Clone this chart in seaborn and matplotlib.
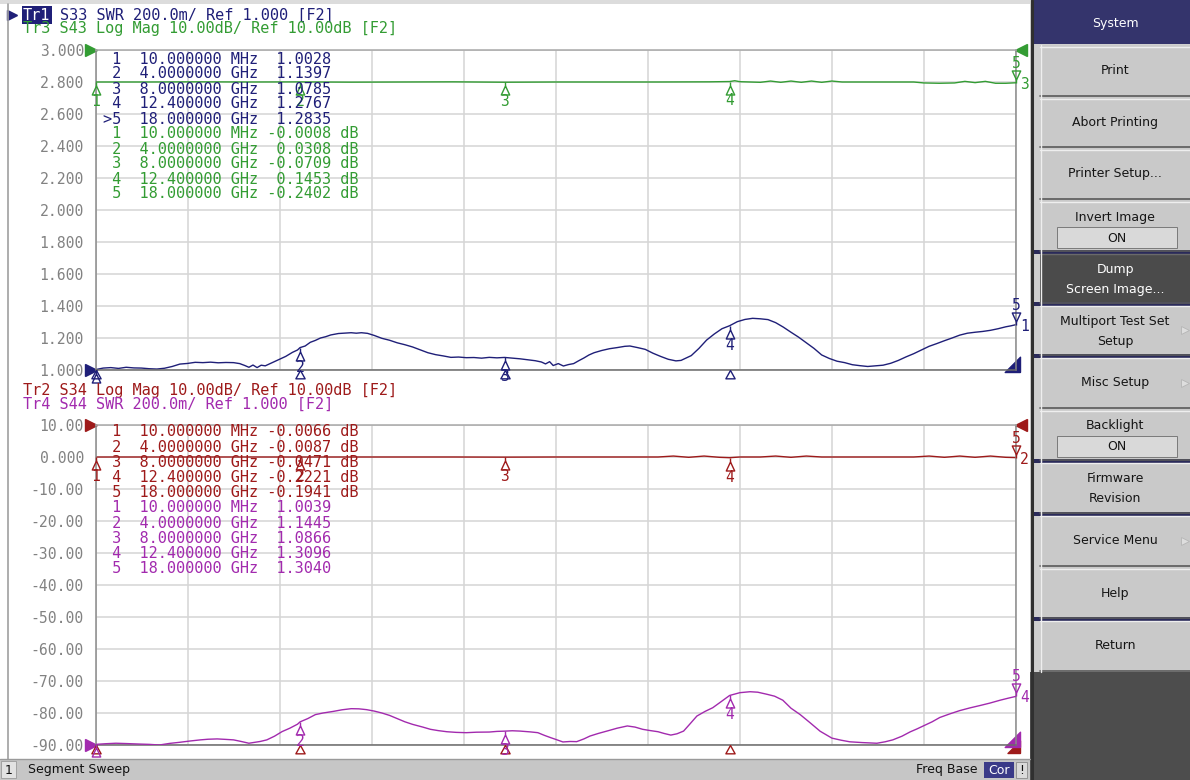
import matplotlib
matplotlib.use("Agg")
import numpy as np
import pandas as pd
import matplotlib.pyplot as plt
import seaborn as sns
from matplotlib.patches import Rectangle

# ---------------- data ----------------
F_START, F_STOP = 0.01, 18.0   # GHz

s33_freq = [0.01, 0.15, 0.30, 0.45, 0.60, 0.75, 0.90, 1.05, 1.20, 1.35, 1.50, 1.65, 1.80, 1.95,
            2.10, 2.25, 2.40, 2.55, 2.70, 2.82, 2.92, 3.00, 3.08, 3.16, 3.24, 3.32, 3.45, 3.60,
            3.72, 3.85, 3.95, 4.00, 4.10, 4.20, 4.30, 4.40, 4.50, 4.60, 4.75, 4.90, 5.00, 5.10,
            5.20, 5.32, 5.45, 5.60, 5.75, 5.90, 6.05, 6.20, 6.35, 6.50, 6.65, 6.80, 6.95, 7.10,
            7.25, 7.40, 7.55, 7.70, 7.85, 8.00, 8.15, 8.30, 8.45, 8.60, 8.72, 8.80, 8.88, 8.95,
            9.05, 9.15, 9.25, 9.35, 9.45, 9.55, 9.65, 9.75, 9.90, 10.05, 10.20, 10.35, 10.45,
            10.60, 10.75, 10.90, 11.05, 11.20, 11.35, 11.45, 11.55, 11.65, 11.80, 11.95, 12.10,
            12.25, 12.40, 12.55, 12.70, 12.85, 13.00, 13.15, 13.30, 13.45, 13.60, 13.75, 13.90,
            14.05, 14.20, 14.35, 14.50, 14.65, 14.80, 14.95, 15.10, 15.25, 15.40, 15.55, 15.70,
            15.85, 16.00, 16.15, 16.30, 16.45, 16.60, 16.75, 16.90, 17.05, 17.20, 17.35, 17.50,
            17.65, 17.80, 17.90, 18.00]
s33_swr = [1.003, 1.012, 1.015, 1.010, 1.017, 1.013, 1.012, 1.008, 1.006, 1.011, 1.022, 1.037, 1.041, 1.048,
           1.046, 1.049, 1.045, 1.047, 1.046, 1.040, 1.028, 1.017, 1.031, 1.015, 1.030, 1.026, 1.045, 1.067,
           1.085, 1.110, 1.125, 1.140, 1.150, 1.173, 1.185, 1.200, 1.208, 1.219, 1.228, 1.231, 1.233, 1.230,
           1.233, 1.229, 1.216, 1.198, 1.186, 1.170, 1.158, 1.144, 1.126, 1.108, 1.096, 1.088, 1.079, 1.081,
           1.077, 1.078, 1.074, 1.079, 1.076, 1.0785, 1.074, 1.070, 1.064, 1.058, 1.050, 1.038, 1.052, 1.028,
           1.040, 1.025, 1.034, 1.040, 1.058, 1.075, 1.094, 1.108, 1.122, 1.133, 1.140, 1.148, 1.150,
           1.140, 1.129, 1.105, 1.085, 1.067, 1.057, 1.060, 1.075, 1.090, 1.135, 1.187, 1.225,
           1.258, 1.2767, 1.302, 1.316, 1.323, 1.320, 1.315, 1.296, 1.268, 1.236, 1.205, 1.170,
           1.135, 1.094, 1.072, 1.055, 1.046, 1.033, 1.027, 1.022, 1.026, 1.030, 1.042, 1.060,
           1.082, 1.102, 1.125, 1.148, 1.165, 1.183, 1.200, 1.218, 1.230, 1.236, 1.241, 1.248,
           1.258, 1.270, 1.276, 1.2835]

s44_freq = [0.01, 0.20, 0.40, 0.60, 0.85, 1.05, 1.25, 1.45, 1.65, 1.85, 2.05, 2.20, 2.38, 2.55, 2.70,
            2.85, 3.00, 3.10, 3.22, 3.35, 3.50, 3.65, 3.80, 3.95, 4.00, 4.15, 4.30, 4.45, 4.65, 4.82,
            5.00, 5.15, 5.30, 5.45, 5.60, 5.75, 5.90, 6.05, 6.20, 6.40, 6.55, 6.70, 6.87, 7.05, 7.25,
            7.45, 7.70, 7.85, 8.00, 8.15, 8.30, 8.50, 8.65, 8.78, 8.90, 9.00, 9.14, 9.28, 9.41, 9.55,
            9.67, 9.83, 10.00, 10.20, 10.40, 10.55, 10.70, 10.85, 11.00, 11.12, 11.25, 11.37, 11.50,
            11.62, 11.76, 11.92, 12.07, 12.23, 12.40, 12.60, 12.80, 12.95, 13.13, 13.28, 13.44, 13.60,
            13.78, 13.97, 14.17, 14.40, 14.58, 14.75, 15.00, 15.28, 15.44, 15.59, 15.77, 15.93, 16.06,
            16.18, 16.36, 16.51, 16.71, 16.90, 17.10, 17.30, 17.49, 17.69, 17.84, 18.00]
s44_swr = [1.004, 1.008, 1.011, 1.009, 1.006, 1.004, 1.000, 1.010, 1.017, 1.025, 1.032, 1.036, 1.038, 1.035, 1.032,
           1.022, 1.011, 1.016, 1.022, 1.032, 1.055, 1.084, 1.105, 1.130, 1.1445, 1.165, 1.190, 1.200, 1.210, 1.220,
           1.227, 1.226, 1.221, 1.212, 1.200, 1.185, 1.165, 1.145, 1.129, 1.112, 1.098, 1.090, 1.083, 1.079, 1.077,
           1.080, 1.081, 1.085, 1.0866, 1.089, 1.087, 1.082, 1.077, 1.060, 1.046, 1.035, 1.019, 1.022, 1.021, 1.038,
           1.056, 1.072, 1.087, 1.105, 1.119, 1.112, 1.098, 1.090, 1.083, 1.072, 1.062, 1.070, 1.087,
           1.130, 1.181, 1.210, 1.233, 1.270, 1.3096, 1.327, 1.333, 1.330, 1.317, 1.305, 1.280, 1.230,
           1.190, 1.140, 1.086, 1.043, 1.030, 1.020, 1.015, 1.011, 1.020, 1.032, 1.055, 1.082, 1.100,
           1.118, 1.145, 1.172, 1.195, 1.215, 1.232, 1.247, 1.262, 1.280, 1.292, 1.304]

s43_freq = [0.01, 1.0, 2.0, 3.0, 4.0, 5.0, 6.0, 7.0, 8.0, 9.0, 10.0, 11.0, 12.0, 12.4, 12.5, 12.6,
            13.0, 13.2, 13.4, 13.6, 13.8, 14.0, 14.2, 14.4, 14.6, 15.5, 16.0, 16.2, 16.5, 16.8,
            17.0, 17.2, 17.4, 17.6, 17.8, 18.0]
s43_db = [-0.0008, 0.0, 0.05, 0.0, 0.0308, -0.05, 0.0, 0.05, -0.0709, 0.0, 0.0, 0.0, 0.05, 0.1453, 0.4, 0.1,
          -0.1, 0.3, -0.1, 0.3, -0.1, 0.3, -0.1, 0.3, 0.0, 0.0, 0.0, -0.3, -0.4, -0.3,
          0.2, -0.2, 0.2, -0.4, -0.4, -0.2402]

s34_freq = [0.01, 1.0, 2.0, 3.0, 4.0, 5.0, 6.0, 7.0, 8.0, 9.0, 10.0, 11.0, 11.3, 11.6, 11.9, 12.2,
            12.4, 12.6, 13.0, 13.3, 13.6, 13.9, 14.2, 15.0, 16.0, 16.3, 16.6, 16.9, 17.2, 17.5,
            17.8, 18.0]
s34_db = [-0.0066, 0.0, 0.0, 0.0, -0.0087, 0.0, 0.0, 0.0, -0.0471, 0.0, 0.0, 0.0, 0.3, -0.1, 0.3, -0.1,
          -0.2221, 0.0, 0.0, 0.3, -0.1, 0.3, 0.0, 0.0, 0.0, 0.3, -0.1, 0.3, -0.1, 0.3,
          -0.1, -0.1941]

marker_freq = [0.01, 4.0, 8.0, 12.4, 18.0]
marker_freq_labels = ["10.000000 MHz", "4.0000000 GHz", "8.0000000 GHz", "12.400000 GHz", "18.000000 GHz"]
m_s33 = [1.0028, 1.1397, 1.0785, 1.2767, 1.2835]
m_s43 = [-0.0008, 0.0308, -0.0709, 0.1453, -0.2402]
m_s34 = [-0.0066, -0.0087, -0.0471, -0.2221, -0.1941]
m_s44 = [1.0039, 1.1445, 1.0866, 1.3096, 1.3040]

swr_ticks = [3.0, 2.8, 2.6, 2.4, 2.2, 2.0, 1.8, 1.6, 1.4, 1.2, 1.0]
swr_tick_labels = ["3.000", "2.800", "2.600", "2.400", "2.200", "2.000", "1.800", "1.600", "1.400", "1.200", "1.000"]
db_ticks = [10, 0, -10, -20, -30, -40, -50, -60, -70, -80, -90]
db_tick_labels = ["10.00", "0.000", "-10.00", "-20.00", "-30.00", "-40.00", "-50.00", "-60.00", "-70.00", "-80.00", "-90.00"]

hdr_top = ["Tr1", "S33 SWR 200.0m/ Ref 1.000 [F2]", "Tr3 S43 Log Mag 10.00dB/ Ref 10.00dB [F2]"]
hdr_bot = ["Tr2 S34 Log Mag 10.00dB/ Ref 10.00dB [F2]", "Tr4 S44 SWR 200.0m/ Ref 1.000 [F2]"]

menu_labels = ["Print", "Abort Printing", "Printer Setup...", "Invert Image", "Dump\nScreen Image...",
               "Multiport Test Set\nSetup", "Misc Setup", "Backlight", "Firmware\nRevision",
               "Service Menu", "Help", "Return"]
menu_kind = ["", "", "", "on", "dark", "arrow", "arrow", "on", "", "arrow", "", ""]

# ---------------- colours ----------------
NAVY = "#1f1f78"
GREEN = "#339c33"
RED = "#9e1a1a"
PURPLE = "#a22aae"
GRID = "#d5d5d5"
TICK = "#828282"
MONO = "DejaVu Sans Mono"

sns.set_style("white")
plt.rcParams["font.family"] = ["DejaVu Sans"]

W, H = 1190, 780
fig = plt.figure(figsize=(W / 100, H / 100), dpi=100, facecolor="white")


def frac(x0, y0, x1, y1):
    return [x0 / W, 1 - y1 / H, (x1 - x0) / W, (y1 - y0) / H]


ax1 = fig.add_axes(frac(96, 50, 1016, 370), zorder=2)
ax2 = fig.add_axes(frac(96, 425, 1016, 745), zorder=2)
ov = fig.add_axes([0, 0, 1, 1], zorder=10)
ov.set_xlim(0, W)
ov.set_ylim(H, 0)
ov.axis("off")
ov.patch.set_alpha(0)


def style(ax, ticks, labels, lim):
    ax.set_xlim(F_START, F_STOP)
    ax.set_ylim(*lim)
    ax.set_xticks(np.linspace(F_START, F_STOP, 11))
    ax.set_xticklabels([])
    ax.set_yticks(ticks)
    ax.set_yticklabels(labels)
    ax.tick_params(length=0)
    ax.tick_params(axis="y", pad=8.6, labelsize=10.6, labelcolor=TICK)
    for lab in ax.get_yticklabels():
        lab.set_fontfamily(MONO)
    ax.grid(True, color=GRID, lw=1.1)
    ax.set_axisbelow(True)
    ax.set_xlabel("")
    ax.set_ylabel("")
    for s in ax.spines.values():
        s.set_color("#8a8a8a")
        s.set_linewidth(1.1)
    ax.spines["top"].set_color("#a8a8a8")
    ax.spines["bottom"].set_color("#6a6a6a")


def twin(ax, lim):
    t = ax.twinx()
    t.set_ylim(*lim)
    t.set_yticks([])
    for s in t.spines.values():
        s.set_visible(False)
    return t


def trace(ax, f, v, color):
    df = pd.DataFrame({"freq": f, "val": v})
    sns.lineplot(data=df, x="freq", y="val", ax=ax, color=color, lw=1.0,
                 estimator=None, legend=False)
    ax.set_xlabel("")
    ax.set_ylabel("")


TRI_BELOW = [(0, 0), (0, -0.35), (-0.42, -1.25), (0.42, -1.25), (0, -0.35)]
TRI_ABOVE = [(0, 0), (0, 0.35), (-0.42, 1.25), (0.42, 1.25), (0, 0.35)]
STIM = [(0, 0), (-0.5, -0.9), (0.5, -0.9), (0, 0)]
CORNER = [(0, 0), (-1, 0), (0, 1), (0, 0)]


def markers(ax, freqs, vals, color, trace_id, show_first_num=True):
    for i, (f, v) in enumerate(zip(freqs, vals)):
        up = (i == len(freqs) - 1)
        ax.plot([f], [v], marker=TRI_ABOVE if up else TRI_BELOW, ms=18, mfc="none",
                mec=color, mew=1.0, ls="none", clip_on=False, zorder=5)
        if i == 0 and not show_first_num:
            continue   # number falls outside the window in the reference
        ax.annotate(str(i + 1), (f, v), xytext=(0, 14 if up else -14),
                    textcoords="offset points", ha="center", va="center", color=color,
                    fontsize=10.5, family=MONO, annotation_clip=False)
    ax.annotate(trace_id, (freqs[-1], vals[-1]), xytext=(3, -1), textcoords="offset points",
                ha="left", va="center", color=color, fontsize=10.5, family=MONO,
                annotation_clip=False)


def stim(ax, freqs, base, color):
    ax.plot(freqs[:-1], [base] * (len(freqs) - 1), marker=STIM, ms=12, mfc="none", mec=color,
            mew=1.0, ls="none", clip_on=False, zorder=5)


def arrows(ax, top_color, bot_color, corner_color):
    tr = ax.transAxes
    ax.plot([-5 / 920], [1.0], marker=">", ms=9, color=top_color, transform=tr, clip_on=False)
    ax.plot([-5 / 920], [0.0], marker=">", ms=9, color=bot_color, transform=tr, clip_on=False)
    ax.plot([1 + 5 / 920], [1.0], marker="<", ms=9, color=top_color, transform=tr, clip_on=False)
    ax.plot([1 + 4 / 920], [-2 / 320], marker=CORNER, ms=22, color=corner_color, transform=tr,
            clip_on=False)


# ---------------- top window ----------------
style(ax1, swr_ticks, swr_tick_labels, (1.0, 3.0))
trace(ax1, s33_freq, s33_swr, NAVY)
ax1b = twin(ax1, (-90, 10))
trace(ax1b, s43_freq, s43_db, GREEN)
stim(ax1, marker_freq, 1.0, NAVY)
markers(ax1, marker_freq, m_s33, NAVY, "1", show_first_num=False)
markers(ax1b, marker_freq, m_s43, GREEN, "3")
arrows(ax1, GREEN, NAVY, NAVY)

# ---------------- bottom window ----------------
style(ax2, db_ticks, db_tick_labels, (-90, 10))
trace(ax2, s34_freq, s34_db, RED)
ax2b = twin(ax2, (1.0, 3.0))
trace(ax2b, s44_freq, s44_swr, PURPLE)
stim(ax2, marker_freq, -90, RED)
markers(ax2, marker_freq, m_s34, RED, "2")
markers(ax2b, marker_freq, m_s44, PURPLE, "4", show_first_num=False)
ax2.plot([1 + 4 / 920], [-8 / 320], marker=CORNER, ms=18, color=RED, transform=ax2.transAxes,
         clip_on=False)
arrows(ax2, RED, PURPLE, PURPLE)


# ---------------- marker tables ----------------
def row(i, label, val, suffix, active):
    pre = ">" if active else " "
    sign = "-" if val < 0 else " "
    return f"{pre}{i + 1}  {label} {sign}{abs(val):.4f}{suffix}"


def table(y0, dy, blocks):
    k = 0
    for vals, suffix, color, act in blocks:
        for i, v in enumerate(vals):
            ov.text(103, y0 + k * dy, row(i, marker_freq_labels[i], v, suffix, act and i == 4),
                    family=MONO, fontsize=11, color=color, va="center", ha="left")
            k += 1


table(59, 15.0, [(m_s33, "", NAVY, True), (m_s43, " dB", GREEN, False)])
table(432, 15.2, [(m_s34, " dB", RED, False), (m_s44, "", PURPLE, False)])

# ---------------- headers ----------------
ov.plot([12], [15], marker=">", ms=7, color=NAVY)
ov.text(23, 15, hdr_top[0], family=MONO, fontsize=11, color="white", va="center",
        bbox=dict(boxstyle="square,pad=0.08", fc=NAVY, ec="none"))
ov.text(60, 15, hdr_top[1], family=MONO, fontsize=11, color=NAVY, va="center")
ov.text(23, 29, hdr_top[2], family=MONO, fontsize=11, color=GREEN, va="center")
ov.text(23, 391, hdr_bot[0], family=MONO, fontsize=11, color=RED, va="center")
ov.text(23, 404, hdr_bot[1], family=MONO, fontsize=11, color=PURPLE, va="center")

# frame of the left panel
ov.add_patch(Rectangle((0, 0), 1030, 4, fc="#dcdcdc", ec="none"))
ov.plot([7.5, 7.5], [4, 759], color="#a0a0a0", lw=1.2)

# ---------------- status bar ----------------
ov.add_patch(Rectangle((0, 759), 1030, 21, fc="#c6c6c6", ec="none"))
ov.plot([0, 1030], [759, 759], color="#9a9a9a", lw=1)
ov.add_patch(Rectangle((1, 761), 15, 17, fc="#e2e2e2", ec="#9a9a9a", lw=0.6))
ov.text(8.5, 770, "1", fontsize=9, ha="center", va="center", color="#111111")
ov.text(28, 770, "Segment Sweep", fontsize=9, ha="left", va="center", color="#111111")
ov.text(977, 770, "Freq Base", fontsize=9, ha="right", va="center", color="#111111")
ov.add_patch(Rectangle((984, 762), 30, 16, fc="#3a3a88", ec="none"))
ov.text(999, 770, "Cor", fontsize=9, ha="center", va="center", color="white")
ov.add_patch(Rectangle((1016, 762), 11, 16, fc="#dadada", ec="#8a8a8a", lw=0.6))
ov.text(1021.5, 770, "!", fontsize=9, ha="center", va="center", color="#111111")

# ---------------- soft-key menu ----------------
ov.add_patch(Rectangle((1030, 0), 160, 780, fc="#cfcfcf", ec="none"))
ov.add_patch(Rectangle((1030, 672), 160, 108, fc="#4d4d4d", ec="none"))
ov.plot([1031.5, 1031.5], [0, 780], color="#303030", lw=2.2)
ov.add_patch(Rectangle((1034, 0), 156, 44, fc="#34346c", ec="none"))
ov.text(1115, 24, "System", fontsize=9, ha="center", va="center", color="white")

bounds = [45, 97, 148, 200, 252, 304, 356, 409, 461, 514, 567, 619, 672]
navy_sep = [252, 304, 356, 461, 514, 619]
for i, (lab, kind) in enumerate(zip(menu_labels, menu_kind)):
    y0, y1 = bounds[i], bounds[i + 1]
    fc = "#4b4b4b" if kind == "dark" else "#c9c9c9"
    tc = "white" if kind == "dark" else "#151515"
    ov.add_patch(Rectangle((1040, y0), 150, y1 - y0, fc=fc, ec="none"))
    ov.plot([1040, 1190], [y0 + 1.5, y0 + 1.5], color="#eeeeee" if kind != "dark" else "#6a6a6a", lw=1)
    ov.plot([1040, 1190], [y1 - 1, y1 - 1], color="#5a5a5a", lw=1.2)
    ov.plot([1040.5, 1040.5], [y0, y1], color="#eeeeee", lw=1)
    if kind == "on":
        ov.text(1115, y0 + 17, lab, fontsize=9, ha="center", va="center", color=tc)
        ov.add_patch(Rectangle((1057, y0 + 27), 120, 21, fc="#d9d9d9", ec="#7a7a7a", lw=0.7))
        ov.text(1117, y0 + 38, "ON", fontsize=9, ha="center", va="center", color=tc)
    elif "\n" in lab:
        a, b = lab.split("\n")
        ov.text(1115, y0 + 17.5, a, fontsize=9, ha="center", va="center", color=tc)
        ov.text(1115, y0 + 38, b, fontsize=9, ha="center", va="center", color=tc)
    else:
        ov.text(1115, (y0 + y1) / 2, lab, fontsize=9, ha="center", va="center", color=tc)
    if kind == "arrow":
        ov.plot([1185], [(y0 + y1) / 2], marker=">", ms=6, mfc="#dedede", mec="#b5b5b5", mew=0.6)
for y in navy_sep:
    ov.add_patch(Rectangle((1034, y - 2), 156, 4, fc="#2a2a5a", ec="none"))

fig.savefig("out.png", dpi=100, facecolor="white")
